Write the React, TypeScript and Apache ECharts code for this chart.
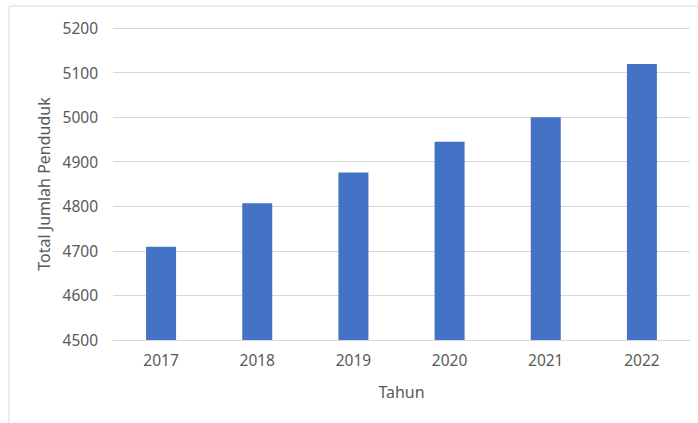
import React, { useEffect, useRef } from "react";
import * as echarts from "echarts";

const categories = ["2017", "2018", "2019", "2020", "2021", "2022"];
const populationValues = [4709, 4807, 4876, 4945, 5000, 5119];
const yMin = 4500;
const yMax = 5200;
const yInterval = 100;

export default function App() {
  const ref = useRef<HTMLDivElement>(null);
  useEffect(() => {
    if (!ref.current) return;
    const chart = echarts.init(ref.current, null, { renderer: "svg" });
    const font = "'Noto Sans', 'Open Sans', sans-serif";
    chart.setOption({
      animation: false,
      backgroundColor: "#ffffff",
      graphic: [
        {
          type: "rect",
          shape: { x: 9, y: 6, width: 720, height: 440 },
          style: { fill: "none", stroke: "#d9d9d9", lineWidth: 1 },
          silent: true,
        },
      ],
      grid: { left: 113, right: 8, top: 28, bottom: 83 },
      xAxis: {
        type: "category",
        data: categories,
        name: "Tahun",
        nameLocation: "middle",
        nameGap: 44,
        nameTextStyle: { color: "#595959", fontSize: 16, fontFamily: font },
        axisLine: { lineStyle: { color: "#d9d9d9", width: 1 } },
        axisTick: { show: false },
        axisLabel: { color: "#595959", fontSize: 15.5, fontFamily: font, margin: 12 },
      },
      yAxis: {
        type: "value",
        min: yMin,
        max: yMax,
        interval: yInterval,
        name: "Total Jumlah Penduduk",
        nameLocation: "middle",
        nameGap: 52,
        nameTextStyle: { color: "#595959", fontSize: 16, fontFamily: font },
        axisLine: { show: false },
        axisTick: { show: false },
        axisLabel: {
          color: "#595959",
          fontSize: 15.5,
          fontFamily: font,
          margin: 15,
          formatter: (v: number) => String(v),
        },
        splitLine: { lineStyle: { color: "#d9d9d9", width: 1 } },
      },
      series: [
        {
          type: "bar",
          data: populationValues,
          barWidth: 30,
          itemStyle: { color: "#4472c4" },
        },
      ],
    });
    return () => chart.dispose();
  }, []);
  return (
    <div
      ref={ref}
      style={{ position: "absolute", left: 0, top: 0, width: 698, height: 423 }}
    />
  );
}
